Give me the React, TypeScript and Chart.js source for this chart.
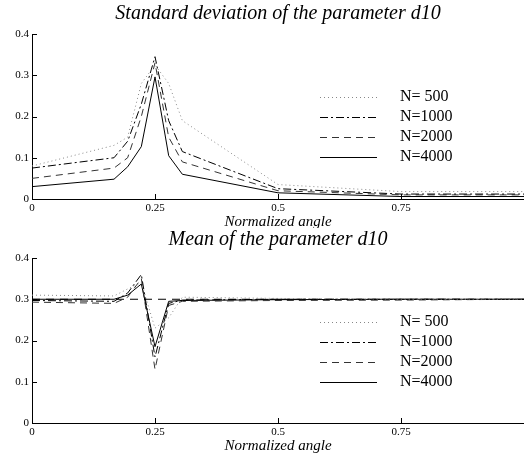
import React, { useEffect, useRef } from "react";
import { Chart, registerables } from "chart.js";

Chart.register(...registerables);

const angles = [0, 0.1667, 0.1944, 0.2222, 0.25, 0.2778, 0.3056, 0.5, 0.75, 1];
const seriesNames = ["N= 500", "N=1000", "N=2000", "N=4000"];

const stdN500 = [0.08, 0.13, 0.15, 0.28, 0.325, 0.28, 0.19, 0.035, 0.018, 0.018];
const stdN1000 = [0.075, 0.1, 0.14, 0.23, 0.345, 0.19, 0.115, 0.025, 0.012, 0.012];
const stdN2000 = [0.05, 0.075, 0.1, 0.2, 0.33, 0.15, 0.09, 0.02, 0.01, 0.01];
const stdN4000 = [0.03, 0.048, 0.078, 0.127, 0.296, 0.105, 0.06, 0.015, 0.006, 0.006];

const meanN500 = [0.31, 0.308, 0.325, 0.34, 0.23, 0.255, 0.305, 0.302, 0.3, 0.3];
const meanN1000 = [0.297, 0.295, 0.315, 0.36, 0.16, 0.29, 0.298, 0.3, 0.3, 0.3];
const meanN2000 = [0.293, 0.29, 0.305, 0.35, 0.13, 0.285, 0.295, 0.297, 0.298, 0.3];
const meanN4000 = [0.3, 0.3, 0.31, 0.337, 0.185, 0.295, 0.297, 0.299, 0.3, 0.3];

const trueAngles = [0, 1];
const trueMean = [0.3, 0.3];

const yTicks = [0, 0.1, 0.2, 0.3, 0.4];
const xTicks = [0, 0.25, 0.5, 0.75];

const topTitle = "Standard deviation of the parameter d10";
const bottomTitle = "Mean of the parameter d10";
const xLabel = "Normalized angle";

const SERIF = '"Liberation Serif", "Times New Roman", serif';

const styles = [
  { color: "#888", dash: [1, 3] },
  { color: "#000", dash: [8, 3, 2, 3] },
  { color: "#333", dash: [7, 5] },
  { color: "#000", dash: [] as number[] },
];

function pts(xs: number[], ys: number[]) {
  return xs.map((x, i) => ({ x, y: ys[i] }));
}

const textPlugin = {
  id: "matlabText",
  afterDraw(chart: any) {
    const o = chart.options.plugins.matlabText;
    if (!o) return;
    const ctx = chart.ctx;
    const ca = chart.chartArea;
    const xs = chart.scales.x;
    const ys = chart.scales.y;
    ctx.save();
    ctx.strokeStyle = "#000";
    ctx.lineWidth = 1;
    ctx.setLineDash([]);
    ctx.beginPath();
    yTicks.forEach((v) => {
      const py = Math.round(ys.getPixelForValue(v)) + 0.5;
      ctx.moveTo(ca.left, py);
      ctx.lineTo(ca.left + 5, py);
    });
    xTicks.forEach((v) => {
      const px = Math.round(xs.getPixelForValue(v)) + 0.5;
      ctx.moveTo(px, ca.bottom);
      ctx.lineTo(px, ca.bottom - 5);
    });
    ctx.stroke();
    const cx = (ca.left + ca.right) / 2;
    ctx.fillStyle = "#000";
    ctx.textAlign = "center";
    ctx.textBaseline = "middle";
    ctx.font = "italic 20px " + SERIF;
    ctx.fillText(o.title, cx, o.titleY);
    ctx.font = "italic 15px " + SERIF;
    ctx.fillText(xLabel, cx, o.xlabelY);
    ctx.textAlign = "left";
    ctx.font = "16px " + SERIF;
    seriesNames.forEach((name, i) => {
      const y = o.legendY + i * 20;
      ctx.strokeStyle = styles[i].color;
      ctx.setLineDash(styles[i].dash);
      ctx.beginPath();
      ctx.moveTo(320, y + 0.5);
      ctx.lineTo(377, y + 0.5);
      ctx.stroke();
      ctx.fillStyle = "#000";
      ctx.fillText(name, 400, y);
    });
    ctx.restore();
  },
};

function makeConfig(series: number[][], extra: any[], opts: any) {
  const datasets: any[] = series.map((s, i) => ({
    label: seriesNames[i],
    data: pts(angles, s),
    borderColor: styles[i].color,
    borderDash: styles[i].dash,
    borderWidth: 1,
    pointRadius: 0,
    fill: false,
    tension: 0,
  }));
  extra.forEach((d) => datasets.push(d));
  return {
    type: "line",
    data: { datasets },
    options: {
      animation: false,
      responsive: false,
      maintainAspectRatio: false,
      layout: { padding: { top: opts.top, bottom: opts.bottom, left: 0, right: 0 } },
      plugins: {
        legend: { display: false },
        tooltip: { enabled: false },
        title: { display: false },
        matlabText: opts.text,
      },
      scales: {
        x: {
          type: "linear",
          min: 0,
          max: 1,
          grid: { display: false, drawTicks: false },
          border: { display: true, color: "#000", width: 1 },
          afterBuildTicks: (s: any) => {
            s.ticks = xTicks.map((v) => ({ value: v }));
          },
          afterFit: (s: any) => {
            s.height = 16;
          },
          ticks: {
            padding: 3,
            color: "#000",
            font: { family: SERIF, size: 11 },
            maxRotation: 0,
            autoSkip: false,
            callback: (v: number) => String(v),
          },
        },
        y: {
          min: 0,
          max: 0.4,
          grid: { display: false, drawTicks: false },
          border: { display: true, color: "#000", width: 1 },
          afterBuildTicks: (s: any) => {
            s.ticks = yTicks.map((v) => ({ value: v }));
          },
          afterFit: (s: any) => {
            s.width = 32;
          },
          ticks: {
            padding: 3,
            color: "#000",
            font: { family: SERIF, size: 11 },
            callback: (v: number) => String(v),
          },
        },
      },
    },
    plugins: [textPlugin],
  };
}

function Panel(props: { series: number[][]; extra: any[]; opts: any; top: number }) {
  const ref = useRef<HTMLCanvasElement>(null);
  useEffect(() => {
    if (!ref.current) return;
    const chart = new Chart(ref.current, makeConfig(props.series, props.extra, props.opts) as any);
    return () => chart.destroy();
  }, []);
  return (
    <canvas
      ref={ref}
      width={524}
      height={228}
      style={{ position: "absolute", left: 0, top: props.top, width: 524, height: 228 }}
    />
  );
}

export default function App() {
  const trueLine = {
    label: "true",
    data: pts(trueAngles, trueMean),
    borderColor: "#000",
    borderDash: [8, 6],
    borderWidth: 1,
    pointRadius: 0,
    fill: false,
  };
  return (
    <div style={{ position: "fixed", left: 0, top: 0, width: 524, height: 456, background: "#fff" }}>
      <Panel
        top={0}
        series={[stdN500, stdN1000, stdN2000, stdN4000]}
        extra={[]}
        opts={{ top: 34, bottom: 13, text: { title: topTitle, titleY: 14, xlabelY: 222, legendY: 97 } }}
      />
      <Panel
        top={228}
        series={[meanN500, meanN1000, meanN2000, meanN4000]}
        extra={[trueLine]}
        opts={{ top: 30, bottom: 17, text: { title: bottomTitle, titleY: 12, xlabelY: 218, legendY: 94 } }}
      />
    </div>
  );
}
